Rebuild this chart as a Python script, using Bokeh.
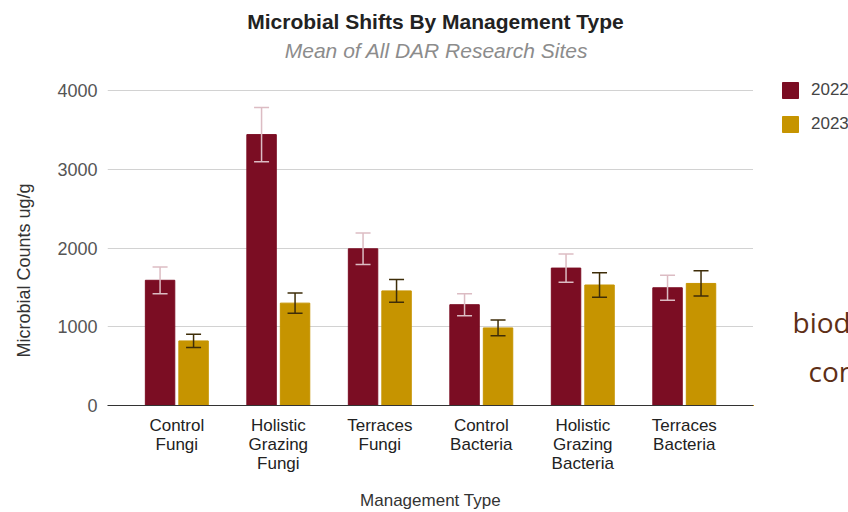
import numpy as np
from bokeh.plotting import figure
from bokeh.layouts import row
from bokeh.models import (Range1d, LinearAxis, FixedTicker, ColumnDataSource,
                          Whisker, TeeHead, Legend, LegendItem, Label)
from bokeh.embed import file_html
from bokeh.resources import INLINE

# ---- data ----
categories = ["Control\nFungi", "Holistic\nGrazing\nFungi", "Terraces\nFungi",
              "Control\nBacteria", "Holistic\nGrazing\nBacteria", "Terraces\nBacteria"]
years = ["2022", "2023"]
counts_2022 = [1590, 3440, 1990, 1280, 1745, 1495]
counts_2023 = [820, 1300, 1455, 985, 1530, 1550]
err_2022 = [170, 345, 200, 140, 180, 160]
err_2023 = [85, 130, 145, 100, 155, 160]
y_ticks = [0, 1000, 2000, 3000, 4000]

title = "Microbial Shifts By Management Type"
subtitle = "Mean of All DAR Research Sites"
x_title = "Management Type"
y_title = "Microbial Counts ug/g"
page_texts = ["biod", "con"]

# ---- style ----
FONT = "Liberation Sans"
C22, C23 = "#7b0d23", "#c69400"
W22, W23 = "#dcbcc3", "#3e2d08"
H = 512
TOP, BOTTOM = 0, 107   # shared borders so the three frames line up


def blank(width, xr, yr):
    f = figure(width=width, height=H, x_range=xr, y_range=yr,
               x_axis_type=None, y_axis_type=None, output_backend="svg",
               toolbar_location=None, min_border_left=0, min_border_right=0,
               min_border_top=TOP, min_border_bottom=BOTTOM)
    f.outline_line_color = None
    f.background_fill_color = "white"
    f.border_fill_color = "white"
    f.xgrid.visible = False
    f.ygrid.visible = False
    return f


def lab(fig, text, x, y, size, color, style="normal", align="center",
        baseline="middle", angle=0, font=FONT):
    fig.add_layout(Label(x=x, y=y, x_units="screen", y_units="screen", text=text,
                         text_font=font, text_font_size=size, text_color=color,
                         text_font_style=style, text_align=align,
                         text_baseline=baseline, angle=angle))


# left strip: y axis title (frame bottom at y=405 of the page)
p0 = blank(45, Range1d(0, 45), Range1d(0, 405))
lab(p0, y_title, 23, 135, "18px", "#333333", angle=np.pi / 2)

# main chart
p = figure(width=708, height=H,
           x_range=Range1d(-0.683, 5.682), y_range=Range1d(0, 4000 * 405 / 315),
           x_axis_type=None, output_backend="svg", toolbar_location=None,
           min_border_left=62, min_border_right=0, min_border_top=TOP, min_border_bottom=BOTTOM)
p.outline_line_color = None
p.background_fill_color = "white"
p.border_fill_color = "white"

idx = list(range(len(categories)))
xax = LinearAxis(ticker=FixedTicker(ticks=idx),
                 major_label_overrides={i: c for i, c in zip(idx, categories)})
xax.axis_line_color = "#333333"
xax.axis_line_width = 1.2
xax.major_tick_line_color = None
xax.major_tick_out = 0
xax.major_tick_in = 0
xax.minor_tick_line_color = None
xax.major_label_standoff = 10
xax.major_label_text_font = FONT
xax.major_label_text_font_size = "17px"
xax.major_label_text_line_height = 1.0
xax.major_label_text_color = "#222222"
xax.axis_label = x_title
xax.axis_label_standoff = 15
xax.axis_label_text_font = FONT
xax.axis_label_text_font_size = "17px"
xax.axis_label_text_font_style = "normal"
xax.axis_label_text_color = "#333333"
p.add_layout(xax, "below")

p.yaxis.ticker = FixedTicker(ticks=y_ticks)
p.yaxis.axis_line_color = None
p.yaxis.major_tick_line_color = None
p.yaxis.major_tick_out = 0
p.yaxis.major_tick_in = 0
p.yaxis.minor_tick_line_color = None
p.yaxis.major_label_standoff = 10
p.yaxis.major_label_text_font = FONT
p.yaxis.major_label_text_font_size = "18px"
p.yaxis.major_label_text_color = "#555555"
p.ygrid.ticker = FixedTicker(ticks=y_ticks)
p.ygrid.grid_line_color = "#d2d2d2"

# right strip: legend and page text; its ranges keep the shared bars far out of view
p2 = blank(95, Range1d(10000, 10095), Range1d(100000, 100405))

base = np.arange(len(categories))
leg_r = []
for vals, errs, off, col, wcol in [(counts_2022, err_2022, -0.165, C22, W22),
                                   (counts_2023, err_2023, 0.165, C23, W23)]:
    v = np.array(vals, dtype=float)
    e = np.array(errs, dtype=float)
    src = ColumnDataSource(dict(x=base + off, top=v, upper=v + e, lower=v - e))
    p.vbar(x="x", top="top", width=0.29, source=src, fill_color=col, line_color=col)
    p.add_layout(Whisker(base="x", upper="upper", lower="lower", source=src,
                         line_color=wcol, line_width=1.5, level="overlay",
                         upper_head=TeeHead(size=15, line_color=wcol, line_width=1.5),
                         lower_head=TeeHead(size=15, line_color=wcol, line_width=1.5)))
    leg_r.append(p2.vbar(x="x", top="top", width=0.29, source=src,
                         fill_color=col, line_color=col))

lab(p, title, 328, 384, "21px", "#222222", style="bold")
lab(p, subtitle, 329, 355, "21px", "#8c8c8c", style="italic")

legend = Legend(items=[LegendItem(label=y, renderers=[r]) for y, r in zip(years, leg_r)],
                location=(27, 271.5), glyph_width=20, glyph_height=20, spacing=14,
                padding=0, margin=0, label_standoff=11, border_line_color=None,
                background_fill_alpha=0, label_text_font=FONT,
                label_text_font_size="17px", label_text_color="#444444")
p2.add_layout(legend)
lab(p2, page_texts[0], 39, 84, "28px", "#5e2f17", align="left", baseline="alphabetic",
    font="Open Sans")
lab(p2, page_texts[1], 55, 35, "28px", "#5e2f17", align="left", baseline="alphabetic",
    font="Open Sans")

layout = row(p0, p, p2, spacing=0)
open("out.html", "w").write(file_html(layout, INLINE))
